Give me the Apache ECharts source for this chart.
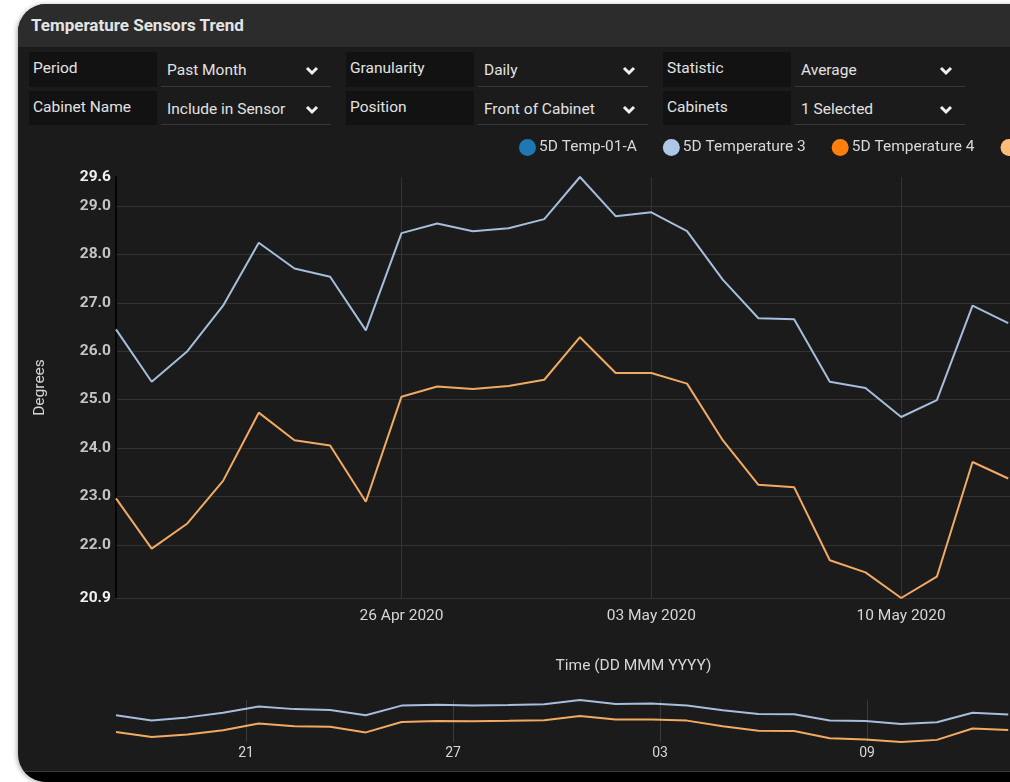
<!DOCTYPE html>
<html>
<head>
<meta charset="utf-8">
<title>Temperature Sensors Trend</title>
<script src="https://cdn.jsdelivr.net/npm/echarts@6/dist/echarts.min.js"></script>
<style>
  html, body {
    margin: 0;
    padding: 0;
    width: 1010px;
    height: 782px;
    overflow: hidden;
    background: #ffffff;
    font-family: Roboto, "Noto Sans", sans-serif;
  }

  .card {
    position: absolute;
    left: 18px;
    top: 4px;
    width: 1100px;
    height: 778px;
    background: #1b1b1b;
    border-radius: 28px 0 0 28px;
    overflow: hidden;
    box-shadow: -1px 1px 5px rgba(0, 0, 0, 0.35);
  }

  .card .header {
    height: 43px;
    background: #2c2c2c;
    color: #e4e4e4;
    font-size: 17px;
    font-weight: bold;
    line-height: 42px;
    padding-left: 13px;
  }

  .card .footer {
    position: absolute;
    left: 0;
    right: 0;
    top: 767px;
    bottom: 0;
    background: #000;
    border-top: 1px solid #3a3a3a;
  }

  .filter-label,
  .filter-select {
    position: absolute;
    color: #e2e2e2;
    font-size: 15.5px;
    box-sizing: border-box;
    z-index: 1;
  }

  .filter-label {
    width: 128px;
    background: #121212;
    padding: 7px 0 0 4px;
  }

  .filter-select {
    width: 170px;
    border-bottom: 1px solid #383838;
    padding: 9px 0 0 6px;
  }

  .filter-select svg {
    position: absolute;
    right: 12px;
    top: 14px;
  }

  #chart {
    position: absolute;
    left: 0;
    top: 0;
    width: 1010px;
    height: 782px;
    z-index: 2;
    pointer-events: none;
  }
</style>
</head>
<body>
  <div class="card">
    <div class="header">Temperature Sensors Trend</div>
    <div class="footer"></div>
  </div>
  <div id="filters"></div>
  <div id="chart"></div>

<script>
// 数据
const dates = [
  '2020-04-18', '2020-04-19', '2020-04-20', '2020-04-21', '2020-04-22',
  '2020-04-23', '2020-04-24', '2020-04-25', '2020-04-26', '2020-04-27',
  '2020-04-28', '2020-04-29', '2020-04-30', '2020-05-01', '2020-05-02',
  '2020-05-03', '2020-05-04', '2020-05-05', '2020-05-06', '2020-05-07',
  '2020-05-08', '2020-05-09', '2020-05-10', '2020-05-11', '2020-05-12',
  '2020-05-13'
]
const temp3 = [
  26.45, 25.37, 26.0, 26.94, 28.24, 27.71, 27.54, 26.43, 28.44, 28.64,
  28.48, 28.54, 28.73, 29.6, 28.79, 28.87, 28.48, 27.48, 26.68, 26.66,
  25.37, 25.24, 24.64, 24.99, 26.94, 26.58
]
const temp5 = [
  22.96, 21.92, 22.44, 23.32, 24.73, 24.16, 24.05, 22.89, 25.06, 25.27,
  25.22, 25.28, 25.41, 26.29, 25.55, 25.55, 25.33, 24.16, 23.24, 23.19,
  21.68, 21.43, 20.9, 21.34, 23.71, 23.37
]
const legendNames = ['5D Temp-01-A', '5D Temperature 3', '5D Temperature 4', '5D Temperature 5']
const legendColors = ['#1f77b4', '#aec7e8', '#ff7f0e', '#ffbb78']
const yMin = 20.9
const yMax = 29.6
const yLabelValues = [20.9, 22, 23, 24, 25, 26, 27, 28, 29, 29.6]
const yGridValues = [22, 23, 24, 25, 26, 27, 28, 29]
const xLabelDates = ['2020-04-26', '2020-05-03', '2020-05-10']
const navLabelDates = ['2020-04-21', '2020-04-27', '2020-05-03', '2020-05-09']

const filterRows = [
  [['Period', 'Past Month'], ['Granularity', 'Daily'], ['Statistic', 'Average']],
  [['Cabinet Name', 'Include in Sensor'], ['Position', 'Front of Cabinet'], ['Cabinets', '1 Selected']]
]

// 筛选条
const DAY = 86400000
const MONTHS = ['Jan', 'Feb', 'Mar', 'Apr', 'May', 'Jun', 'Jul', 'Aug', 'Sep', 'Oct', 'Nov', 'Dec']
const ts = d => Date.parse(d + 'T00:00:00Z')
const pad = n => (n < 10 ? '0' : '') + n

const chevron = '<svg width="14" height="10" viewBox="0 0 14 10"><polyline points="2,2 7,7 12,2" fill="none" stroke="#f0f0f0" stroke-width="3"/></svg>'
const filters = document.getElementById('filters')
const rowTops = [52, 91]
const rowHeights = [35, 34]
filterRows.forEach((row, r) => {
  row.forEach((item, c) => {
    const x = 29 + c * 317
    const lab = document.createElement('div')
    lab.className = 'filter-label'
    lab.style.left = x + 'px'
    lab.style.top = rowTops[r] + 'px'
    lab.style.height = rowHeights[r] + 'px'
    lab.textContent = item[0]
    const sel = document.createElement('div')
    sel.className = 'filter-select'
    sel.style.left = (x + 132) + 'px'
    sel.style.top = rowTops[r] + 'px'
    sel.style.height = rowHeights[r] + 'px'
    sel.innerHTML = item[1] + chevron
    filters.appendChild(lab)
    filters.appendChild(sel)
  })
})

// 图表 (x 轴用数值轴装时间戳)
const chart = echarts.init(document.getElementById('chart'))
const xMin = ts('2020-04-18')
const xMax = ts('2020-05-17')
// 底部缩略条的刻度和数据轴有偏移
const navMin = ts('2020-04-21') - 3.77 * DAY
const navMax = navMin + 30 * DAY

const pts = vals => dates.map((d, i) => [ts(d), vals[i]])
const axisFont = { fontFamily: 'Roboto', color: '#d6d6d6' }

const option = {
  animation: false,
  backgroundColor: 'transparent',
  legend: {
    data: legendNames,
    left: 514,
    top: 134,
    width: 2000,
    icon: 'circle',
    itemWidth: 17,
    itemHeight: 17,
    itemGap: 26,
    textStyle: { color: '#d8d8d8', fontSize: 15.5, fontFamily: 'Roboto', padding: [0, 0, 0, -2] }
  },
  grid: [
    { left: 116, top: 177, width: 1035, height: 421, outerBoundsMode: 'none' },
    { left: 116, top: 700, width: 1035, height: 42, outerBoundsMode: 'none' }
  ],
  xAxis: [{
    type: 'value',
    gridIndex: 0,
    min: xMin,
    max: xMax,
    name: 'Time (DD MMM YYYY)',
    nameLocation: 'middle',
    nameGap: 60,
    nameTextStyle: Object.assign({ fontSize: 15.5 }, axisFont),
    axisLine: { lineStyle: { color: '#333', width: 1 } },
    axisTick: { show: false, customValues: xLabelDates.map(ts) },
    axisLabel: Object.assign({
      customValues: xLabelDates.map(ts),
      fontSize: 15.5,
      margin: 10,
      formatter: v => {
        const d = new Date(v)
        return pad(d.getUTCDate()) + ' ' + MONTHS[d.getUTCMonth()] + ' ' + d.getUTCFullYear()
      }
    }, axisFont),
    splitLine: { show: true, lineStyle: { color: '#333', width: 1 } }
  }, {
    type: 'value',
    gridIndex: 1,
    position: 'top',
    min: xMin,
    max: xMax,
    show: false,
    splitLine: { show: false }
  }, {
    type: 'value',
    gridIndex: 1,
    position: 'bottom',
    min: navMin,
    max: navMax,
    axisLine: { show: false },
    axisTick: { show: false, customValues: navLabelDates.map(ts) },
    axisLabel: Object.assign({
      customValues: navLabelDates.map(ts),
      fontSize: 14,
      margin: 4,
      formatter: v => pad(new Date(v).getUTCDate())
    }, axisFont),
    splitLine: { show: true, lineStyle: { color: '#3a3a3a', width: 1 } }
  }],
  yAxis: [{
    type: 'value',
    gridIndex: 0,
    min: yMin,
    max: yMax,
    name: 'Degrees',
    nameLocation: 'middle',
    nameGap: 68,
    nameTextStyle: Object.assign({ fontSize: 15.5 }, axisFont),
    axisLine: { show: true, lineStyle: { color: '#050505', width: 2 } },
    axisTick: { show: false, customValues: yGridValues },
    axisLabel: {
      customValues: yLabelValues,
      margin: 5,
      formatter: v => (v === yMin || v === yMax) ? '{e|' + v.toFixed(1) + '}' : '{n|' + v.toFixed(1) + '}',
      rich: {
        e: { fontFamily: 'Roboto', fontSize: 15.5, fontWeight: 'bold', color: '#f0f0f0' },
        n: { fontFamily: 'Roboto', fontSize: 15.5, fontWeight: 'bold', color: '#c4c4c4' }
      }
    },
    splitLine: { show: true, lineStyle: { color: '#333', width: 1 } }
  }, {
    type: 'value',
    gridIndex: 1,
    min: yMin,
    max: yMax,
    show: false,
    splitLine: { show: false }
  }],
  series: [
    { name: legendNames[0], type: 'line', xAxisIndex: 0, yAxisIndex: 0, data: [], itemStyle: { color: legendColors[0] } },
    {
      name: legendNames[1], type: 'line', xAxisIndex: 0, yAxisIndex: 0,
      data: pts(temp3), showSymbol: false,
      itemStyle: { color: legendColors[1] },
      lineStyle: { color: '#a6bddc', width: 2 }
    },
    { name: legendNames[2], type: 'line', xAxisIndex: 0, yAxisIndex: 0, data: [], itemStyle: { color: legendColors[2] } },
    {
      name: legendNames[3], type: 'line', xAxisIndex: 0, yAxisIndex: 0,
      data: pts(temp5), showSymbol: false,
      itemStyle: { color: legendColors[3] },
      lineStyle: { color: '#f2aa63', width: 2 }
    },
    {
      name: legendNames[1], type: 'line', xAxisIndex: 1, yAxisIndex: 1,
      data: pts(temp3), showSymbol: false,
      itemStyle: { color: legendColors[1] },
      lineStyle: { color: '#a6bddc', width: 2 }
    },
    {
      name: legendNames[3], type: 'line', xAxisIndex: 1, yAxisIndex: 1,
      data: pts(temp5), showSymbol: false,
      itemStyle: { color: legendColors[3] },
      lineStyle: { color: '#f2aa63', width: 2 }
    }
  ]
}

chart.setOption(option)
</script>
</body>
</html>
